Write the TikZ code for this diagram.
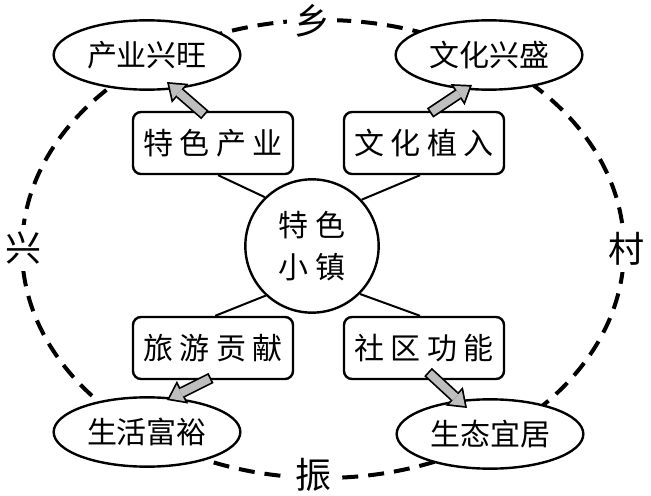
\documentclass[tikz,border=0pt]{standalone}
\usepackage{fontspec}
\usetikzlibrary{shapes.geometric, arrows.meta, calc}
\newfontfamily\cjkfont{Noto Sans CJK SC}
\newfontfamily\cjkwide{Noto Sans CJK SC}[LetterSpace=22]
\definecolor{arrowgray}{HTML}{BEBEBE}

\tikzset{
  goalnode/.style={draw, ellipse, fill=white, line width=1.8pt,
    minimum width=140pt, minimum height=52pt, inner sep=0pt,
    font=\cjkfont\fontsize{22.5}{27}\selectfont},
  pathbox/.style={draw, fill=white, rounded corners=6pt, line width=1.8pt,
    minimum width=120pt, minimum height=46.5pt, inner sep=0pt,
    font=\cjkwide\fontsize{22.5}{27}\selectfont},
  hubnode/.style={draw, circle, fill=white, line width=1.8pt,
    minimum size=100pt, inner sep=0pt, align=center,
    font=\cjkwide\fontsize{22.5}{32}\selectfont},
  ringlabel/.style={fill=white, inner sep=5pt,
    font=\cjkfont\fontsize{27}{30}\selectfont},
  ringline/.style={draw, line width=3pt, dash pattern=on 12pt off 7.5pt},
  spoke/.style={draw, line width=1.5pt},
  fatarrow/.style={
    preaction={draw=black, line width=8.5pt, shorten >=0pt, shorten <=0pt,
      -{Triangle[length=13pt, width=19pt, line width=0pt]}},
    draw=arrowgray, line width=5.9pt, shorten >=2.2pt, shorten <=1.3pt,
    -{Triangle[length=9.5pt, width=13.9pt, line width=0pt]}}
}

\begin{document}
\begin{tikzpicture}[x=0.75pt, y=-0.75pt]
  \useasboundingbox (0,0) rectangle (651,496);

  % outer ring
  \draw[ringline] (323,249) ellipse [x radius=225.75pt, y radius=171.75pt];
  \node[ringlabel] (xiang) at (312,21) {乡};
  \node[ringlabel] (cun) at (626,249) {村};
  \node[ringlabel] (zhen) at (313,475) {振};
  \node[ringlabel] (xing) at (24,248) {兴};

  % goals
  \node[goalnode] (chanye) at (147,55) {产业兴旺};
  \node[goalnode] (wenhua) at (489,55) {文化兴盛};
  \node[goalnode] (shenghuo) at (147,432) {生活富裕};
  \node[goalnode] (shengtai) at (490,434) {生态宜居};

  % paths
  \node[pathbox] (tese) at (213,143) {特色产业};
  \node[pathbox] (zhiru) at (424,143) {文化植入};
  \node[pathbox] (lvyou) at (213,348) {旅游贡献};
  \node[pathbox] (shequ) at (424,348) {社区功能};

  % hub
  \node[hubnode] (xiaozhen) at (312,246) {特色\\小镇};

  \draw[spoke] (tese.-81) -- (xiaozhen.134);
  \draw[spoke] (zhiru.-97) -- (xiaozhen.43);
  \draw[spoke] (lvyou.86) -- (xiaozhen.-133);
  \draw[spoke] (shequ.97) -- (xiaozhen.-45);

  \draw[fatarrow] ($(tese.center)+(-8,-28)$) -- ($(chanye.center)+(20,27)$);
  \draw[fatarrow] ($(zhiru.center)+(6,-30)$) -- ($(wenhua.center)+(-17,30)$);
  \draw[fatarrow] ($(lvyou.center)+(-2,30)$) -- ($(shenghuo.center)+(20,-32)$);
  \draw[fatarrow] ($(shequ.center)+(4,24)$) -- ($(shengtai.center)+(-23,-26)$);
\end{tikzpicture}
\end{document}
